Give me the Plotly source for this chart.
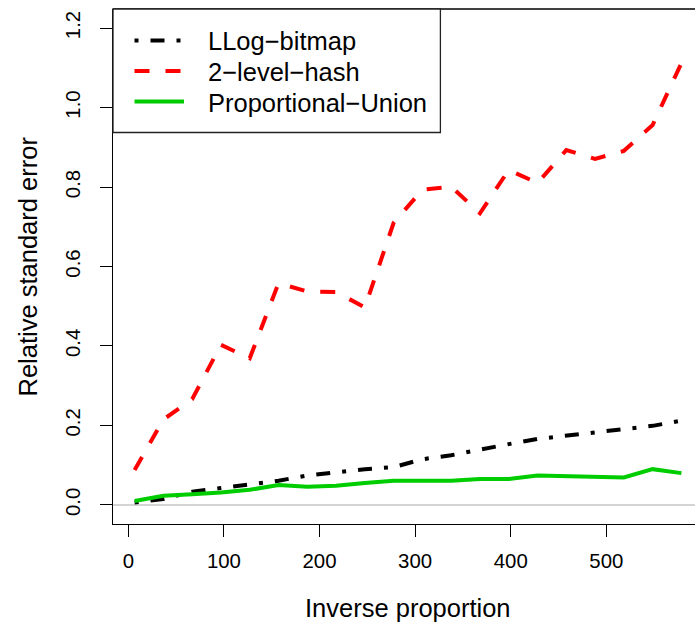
import plotly.graph_objects as go

# ---- data ----
x_vals = [6.6, 36.7, 66.8, 96.9, 127.0, 157.1, 187.2, 217.3, 247.4, 277.5,
          307.6, 337.7, 367.8, 397.9, 428.0, 458.1, 488.2, 518.3, 548.4, 578.5]
llog_bitmap = [0.006, 0.015, 0.033, 0.042, 0.050, 0.061, 0.074, 0.083, 0.090, 0.095,
               0.115, 0.125, 0.140, 0.153, 0.166, 0.174, 0.182, 0.190, 0.199, 0.212]
two_level_hash = [0.088, 0.215, 0.266, 0.403, 0.369, 0.558, 0.537, 0.536, 0.497, 0.710,
                  0.793, 0.801, 0.734, 0.843, 0.810, 0.893, 0.871, 0.891, 0.956, 1.112]
proportional_union = [0.010, 0.023, 0.027, 0.031, 0.038, 0.050, 0.046, 0.048, 0.055, 0.061,
                      0.061, 0.061, 0.065, 0.065, 0.074, 0.073, 0.070, 0.069, 0.090, 0.080]

x_ticks = [0, 100, 200, 300, 400, 500]
y_ticks = [0.0, 0.2, 0.4, 0.6, 0.8, 1.0, 1.2]
series_names = ["LLog\u2212bitmap", "2\u2212level\u2212hash", "Proportional\u2212Union"]
colors = ["#000000", "#FF0000", "#00CD00"]
dashes = ["4px,12px,14px,12px", "15px,16px", "solid"]

FONT = "Liberation Sans, Arial, Helvetica, sans-serif"
W, H = 695, 624
L, R, T, B = 113, 0, 9, 100
PW, PH = W - L - R, H - T - B


def px_x(px):
    return (px - L) / PW


def px_y(py):
    return (H - B - py) / PH


fig = go.Figure()
for name, ys, c, d in zip(series_names, [llog_bitmap, two_level_hash, proportional_union], colors, dashes):
    fig.add_trace(go.Scatter(x=x_vals, y=ys, mode="lines", name=name,
                             line=dict(color=c, width=4, dash=d)))

shapes = []
# grey reference line at 0
shapes.append(dict(type="line", xref="paper", yref="y", x0=0, x1=1, y0=0, y1=0,
                   line=dict(color="#d4d4d4", width=2), layer="below"))
# top border line of the box
shapes.append(dict(type="line", xref="paper", yref="paper", x0=0, x1=1, y0=1, y1=1,
                   line=dict(color="black", width=1.3)))
# legend box
shapes.append(dict(type="rect", xref="paper", yref="paper",
                   x0=0, x1=px_x(440.4), y0=px_y(132.5), y1=1,
                   line=dict(color="#222222", width=1.3), fillcolor="white"))

annotations = []
row_y = [40.5, 71.0, 101.5]
for name, c, d, ry in zip(series_names, colors, dashes, row_y):
    shapes.append(dict(type="line", xref="paper", yref="paper",
                       x0=px_x(134.5), x1=px_x(184), y0=px_y(ry), y1=px_y(ry),
                       line=dict(color=c, width=4, dash=d)))
    annotations.append(dict(text=name, xref="paper", yref="paper",
                            x=px_x(206), y=px_y(ry + 1), xanchor="left", yanchor="middle",
                            showarrow=False, font=dict(size=25.5, family=FONT, color="black")))

annotations.append(dict(text="Inverse proportion", xref="paper", yref="paper",
                        x=px_x(408), y=px_y(608), xanchor="center", yanchor="middle",
                        showarrow=False, font=dict(size=25.5, family=FONT, color="black")))
annotations.append(dict(text="Relative standard error", xref="paper", yref="paper",
                        x=px_x(27.5), y=px_y(267), xanchor="center", yanchor="middle",
                        textangle=-90, showarrow=False,
                        font=dict(size=25.5, family=FONT, color="black")))

fig.update_layout(
    width=W, height=H, margin=dict(l=L, r=R, t=T, b=B, pad=0),
    paper_bgcolor="white", plot_bgcolor="white", showlegend=False,
    font=dict(family=FONT, color="black"),
    shapes=shapes, annotations=annotations,
)
fig.update_xaxes(range=[-16.0, 592.7], tickvals=x_ticks, ticks="outside", ticklen=12,
                 tickwidth=1.3, tickcolor="black", showline=True, linecolor="black",
                 linewidth=1.3, showgrid=False, zeroline=False,
                 tickfont=dict(size=20.4, family=FONT, color="black"),
                 ticklabelstandoff=6)
fig.update_yaxes(range=[-0.048, 1.248], tickvals=y_ticks, tickformat=".1f",
                 ticks="outside", ticklen=12, tickwidth=1.3, tickcolor="black",
                 showline=True, linecolor="black", linewidth=1.3, showgrid=False,
                 zeroline=False, tickangle=-90,
                 tickfont=dict(size=20.4, family=FONT, color="black"),
                 ticklabelstandoff=12)

fig.write_html("out.html", config={"displayModeBar": False},
               post_script="document.body.style.margin='0px';document.body.style.overflow='hidden';")
